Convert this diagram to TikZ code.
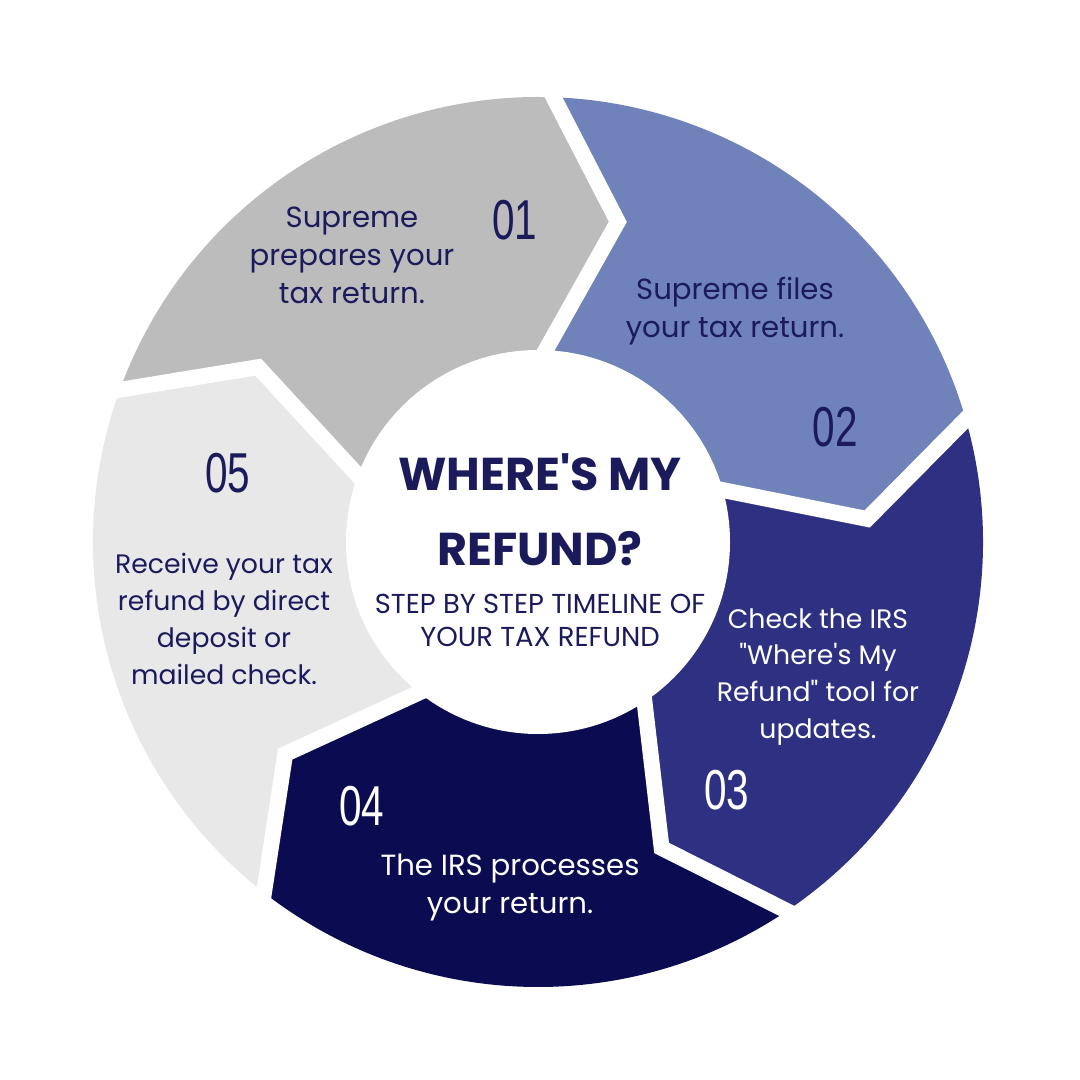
\documentclass[tikz,border=0pt]{standalone}
\usepackage{xcolor}
\usepackage{fontspec}
\setmainfont{Poppins}[Ligatures=TeXOff]
\newfontfamily\numfont[FakeStretch=0.72]{Liberation Sans}
\usetikzlibrary{calc}

\definecolor{greyseg}{HTML}{BCBCBC}
\definecolor{paleseg}{HTML}{E8E8E8}
\definecolor{skyseg}{HTML}{7082BA}
\definecolor{royalseg}{HTML}{2E3182}
\definecolor{navyseg}{HTML}{0B0B52}
\definecolor{inktext}{HTML}{1B1B5C}

\tikzset{
    steptext/.style={align=center, inner sep=0pt, text=inktext,
        font=\fontsize{8.3}{10.8}\selectfont},
    smalltext/.style={steptext, font=\fontsize{7.6}{10.5}\selectfont},
    stepnum/.style={inner sep=0pt, text=inktext,
        font=\numfont\fontsize{16}{16}\selectfont},
    gapline/.style={white, line width=4.5pt, line join=miter, miter limit=20},
}

\begin{document}
\begin{tikzpicture}
    \fill[white] (-5.38,-5.38) rectangle (5.42,5.42);
    \useasboundingbox (-5.38,-5.38) rectangle (5.42,5.42);
    % ring segments, clockwise from 01
    \foreach \a/\col in {160/greyseg, 88/skyseg, 16/royalseg, -56/navyseg, -128/paleseg}{
        \fill[\col] (\a:1.9) -- (\a-12:3.3) -- (\a:4.45)
            arc[start angle=\a, end angle=\a-72, radius=4.45]
            -- (\a-84:3.3) -- (\a-72:1.9)
            arc[start angle=\a-72, end angle=\a, radius=1.9] -- cycle;
    }
    % white chevrons between the segments
    \foreach \a in {160,88,16,-56,-128}
        \draw[gapline] ($(\a:1.9)!-0.2!(\a-12:3.3)$) -- (\a-12:3.3) -- ($(\a:4.45)!-0.2!(\a-12:3.3)$);
    \fill[white] (0,0) circle (1.92);

    \node[steptext] (txtA) at (-1.86,2.87) {Supreme\\prepares your\\tax return.};
    \node[stepnum] (numA) at (-0.23,3.22) {01};
    \node[steptext] (txtB) at (1.97,2.31) {Supreme files\\your tax return.};
    \node[stepnum] (numB) at (2.97,1.15) {02};
    \node[smalltext, text=white] (txtC) at (2.80,-1.35) {Check the IRS\\"Where's My\\Refund" tool for\\updates.};
    \node[stepnum, text=white] (numC) at (1.89,-2.48) {03};
    \node[steptext, text=white] (txtD) at (-0.28,-3.45) {The IRS processes\\your return.};
    \node[stepnum, text=white] (numD) at (-1.76,-2.64) {04};
    \node[smalltext] (txtE) at (-3.14,-0.77) {Receive your tax\\refund by direct\\deposit or\\mailed check.};
    \node[stepnum] (numE) at (-3.10,0.69) {05};

    % centre title
    \node[align=center, inner sep=0pt, text=inktext, font=\bfseries\fontsize{13.1}{21.3}\selectfont]
        (title) at (0.02,0.32) {WHERE'S MY\\REFUND?};
    \node[align=center, inner sep=0pt, text=inktext, font=\fontsize{7.8}{9.4}\selectfont]
        (subtitle) at (0.02,-0.78) {STEP BY STEP TIMELINE OF\\YOUR TAX REFUND};
\end{tikzpicture}
\end{document}
